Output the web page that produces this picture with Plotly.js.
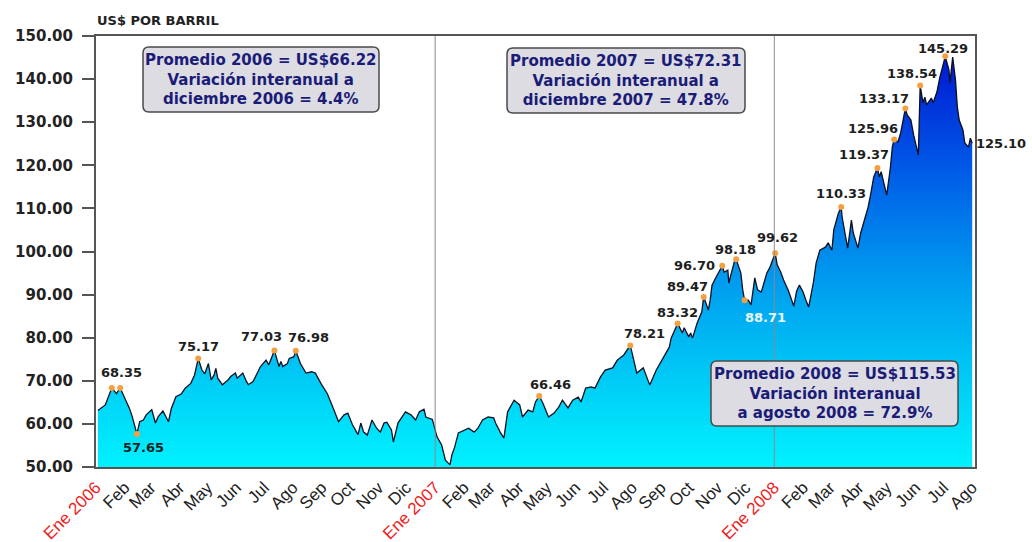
<!DOCTYPE html>
<html><head><meta charset="utf-8">
<script src="https://cdn.plot.ly/plotly-3.0.1.min.js"></script>
<style>html,body{margin:0;padding:0;background:#fff}#chart{width:1032px;height:542px}</style>
</head><body><div id="chart"></div>
<script>
// ---- DATA ----
const dates = [
'2006-01-03','2006-01-06','2006-01-11','2006-01-18','2006-01-23','2006-01-27','2006-02-02','2006-02-06','2006-02-09','2006-02-14',
'2006-02-17','2006-02-21','2006-02-24','2006-03-02','2006-03-06','2006-03-09','2006-03-14','2006-03-17','2006-03-20','2006-03-23',
'2006-03-28','2006-04-03','2006-04-07','2006-04-13','2006-04-17','2006-04-21','2006-04-25','2006-04-28','2006-05-02','2006-05-05',
'2006-05-08','2006-05-10','2006-05-12','2006-05-17','2006-05-23','2006-05-26','2006-05-31','2006-06-02','2006-06-08','2006-06-12',
'2006-06-14','2006-06-19','2006-06-22','2006-06-27','2006-07-03','2006-07-06','2006-07-12','2006-07-17','2006-07-19','2006-07-21',
'2006-07-26','2006-07-28','2006-08-02','2006-08-04','2006-08-09','2006-08-15','2006-08-21','2006-08-25','2006-08-31','2006-09-07',
'2006-09-14','2006-09-19','2006-09-25','2006-09-29','2006-10-04','2006-10-10','2006-10-13','2006-10-16','2006-10-20','2006-10-25',
'2006-10-30','2006-11-03','2006-11-07','2006-11-10','2006-11-15','2006-11-17','2006-11-22','2006-11-30','2006-12-06','2006-12-11',
'2006-12-15','2006-12-20','2006-12-22','2006-12-29',
'2007-01-03','2007-01-08','2007-01-12','2007-01-17','2007-01-19','2007-01-22','2007-01-26','2007-02-01','2007-02-06','2007-02-12',
'2007-02-16','2007-02-21','2007-02-27','2007-03-05','2007-03-07','2007-03-12','2007-03-16','2007-03-20','2007-03-23','2007-03-27',
'2007-04-02','2007-04-05','2007-04-11','2007-04-16','2007-04-19','2007-04-23','2007-04-27','2007-05-03','2007-05-09','2007-05-14',
'2007-05-18','2007-05-24','2007-05-29','2007-06-04','2007-06-07','2007-06-12','2007-06-18','2007-06-22','2007-06-28','2007-07-03',
'2007-07-11','2007-07-16','2007-07-23','2007-07-30','2007-08-01','2007-08-06','2007-08-13','2007-08-16','2007-08-20','2007-08-27',
'2007-09-04','2007-09-10','2007-09-12','2007-09-16','2007-09-19','2007-09-24','2007-09-26','2007-10-01','2007-10-03','2007-10-05',
'2007-10-10','2007-10-15','2007-10-17','2007-10-19','2007-10-22','2007-10-24','2007-10-26','2007-10-30','2007-11-02','2007-11-06',
'2007-11-08','2007-11-12','2007-11-13','2007-11-16','2007-11-19','2007-11-21','2007-11-26','2007-11-28','2007-11-30','2007-12-04',
'2007-12-07','2007-12-11','2007-12-14','2007-12-18','2007-12-24','2007-12-27',
'2008-01-02','2008-01-04','2008-01-08','2008-01-11','2008-01-16','2008-01-22','2008-01-25','2008-01-28','2008-02-01','2008-02-04',
'2008-02-07','2008-02-12','2008-02-15','2008-02-19','2008-02-25','2008-02-28','2008-03-03','2008-03-05','2008-03-10','2008-03-13',
'2008-03-14','2008-03-17','2008-03-20','2008-03-24','2008-03-26','2008-03-31','2008-04-03','2008-04-07','2008-04-11','2008-04-14',
'2008-04-17','2008-04-21','2008-04-23','2008-04-25','2008-04-28','2008-05-01','2008-05-05','2008-05-07','2008-05-09','2008-05-13',
'2008-05-16','2008-05-21','2008-05-23','2008-05-27','2008-05-30','2008-06-04','2008-06-06','2008-06-09','2008-06-11','2008-06-13',
'2008-06-18','2008-06-20','2008-06-24','2008-06-27','2008-07-03','2008-07-07','2008-07-08','2008-07-11','2008-07-14','2008-07-16',
'2008-07-18','2008-07-22','2008-07-24','2008-07-28','2008-07-30','2008-08-01'
];
const prices = [
63.1,63.6,64.4,68.35,67.0,68.35,65.6,63.6,61.7,57.65,
60.5,60.9,62.1,63.3,60.2,61.7,63.0,61.7,60.5,63.5,
66.3,67.0,68.3,69.4,71.3,75.17,72.5,71.6,74.0,70.2,
71.3,72.9,70.6,69.1,70.2,71.0,71.8,70.6,71.8,69.8,
69.1,69.8,71.0,73.3,74.8,73.7,77.03,73.3,74.5,73.3,
74.0,75.2,75.6,76.98,74.0,71.8,72.1,71.8,69.4,67.0,
63.3,60.5,62.1,62.5,59.8,57.5,60.2,58.1,57.4,60.9,
59.0,58.1,60.2,60.4,58.6,55.8,60.2,62.8,62.1,60.9,
62.8,63.4,61.6,61.05,
57.0,55.1,51.6,50.5,52.8,54.6,57.9,58.6,59.0,58.1,
59.0,60.9,61.6,61.4,60.2,58.1,56.7,62.8,63.9,65.5,
64.4,61.6,63.2,62.8,65.1,66.46,64.8,61.6,62.5,63.9,
65.5,63.7,65.5,66.2,65.1,68.3,68.6,68.3,70.9,72.5,
73.0,74.8,76.0,78.21,76.4,71.8,73.0,71.3,69.0,72.5,
75.5,77.8,79.9,82.0,83.32,81.1,82.3,80.2,81.1,79.9,
83.4,86.0,89.47,88.3,86.4,88.7,92.2,93.9,95.0,96.70,
95.2,95.7,92.7,95.0,97.6,98.18,95.0,91.1,88.71,88.7,
87.6,93.9,91.1,90.6,95.0,96.2,
99.62,97.0,95.2,93.4,91.0,87.3,90.8,92.2,90.6,88.7,
87.1,92.7,97.3,100.3,101.0,102.0,100.3,105.0,108.9,110.33,
108.0,104.3,100.8,107.3,104.3,100.8,104.3,107.3,110.3,113.6,
117.3,119.37,117.3,118.5,115.9,113.1,119.6,124.2,125.96,125.4,
127.5,133.17,131.7,130.5,127.0,122.4,138.54,134.5,135.8,134.0,
135.6,134.5,137.0,140.3,145.29,142.1,139.1,145.1,139.8,133.5,
130.5,128.2,125.2,124.2,126.3,125.10
];
// highlighted points (orange dots)
const peakDates = ['2006-01-18','2006-01-27','2006-02-14','2006-04-21','2006-07-12','2006-08-04','2007-04-23','2007-07-30','2007-09-19','2007-10-17','2007-11-06','2007-11-21','2007-11-30','2008-01-02','2008-03-13','2008-04-21','2008-05-09','2008-05-21','2008-06-06','2008-07-03'];
const peakValues = [68.35,68.35,57.65,75.17,77.03,76.98,66.46,78.21,83.32,89.47,96.70,98.18,88.71,99.62,110.33,119.37,125.96,133.17,138.54,145.29];
const monthNames = ['Ene','Feb','Mar','Abr','May','Jun','Jul','Ago','Sep','Oct','Nov','Dic'];
const yTicks = [50,60,70,80,90,100,110,120,130,140,150];
const boxLines = [
  ['Promedio 2006 = US$66.22','Variación interanual a','diciembre 2006 = 4.4%'],
  ['Promedio 2007 = US$72.31','Variación interanual a','diciembre 2007 = 47.8%'],
  ['Promedio 2008 = US$115.53','Variación interanual','a agosto 2008 = 72.9%']
];
const yAxisLabel = 'US$ POR BARRIL';

// ---- LAYOUT HELPERS ----
// label offsets (px) for each highlighted point; null = no label
const labelOffsets = [null,[1,15],[7,-13],[0,12],[-13,14],[13,13],[11,12],[14,12],[0,11],[-16,10],[-28,0],[-1,10],[21,-17],[2,16],[0,13],[-13,14],[-21,11],[-21,10],[-8,12],[-2,8]];
const boxRects = [[143,379,47,112],[507,745,48,113],[711,958,361,426]]; // pixel coords
const L=96, R=975, T=36, B=467, W=1032, H=542;
const px2x = p => (p-L)/(R-L);
const px2y = p => (B-p)/(B-T);

const tickvals=[], ticktext=[];
for (let y=2006; y<=2008; y++) {
  for (let m=0; m<12; m++) {
    if (y===2008 && m>7) break;
    tickvals.push(`${y}-${String(m+1).padStart(2,'0')}-01`);
    ticktext.push(m===0 ? `<span style="color:#EE1C1C">${monthNames[m]} ${y}</span>` : monthNames[m]);
  }
}

function rr(x0,x1,y0,y1){
  const rx=6/(R-L), ry=6/(B-T);
  return `M ${x0+rx},${y0} L ${x1-rx},${y0} Q ${x1},${y0} ${x1},${y0+ry} L ${x1},${y1-ry} Q ${x1},${y1} ${x1-rx},${y1} L ${x0+rx},${y1} Q ${x0},${y1} ${x0},${y1-ry} L ${x0},${y0+ry} Q ${x0},${y0} ${x0+rx},${y0} Z`;
}

const shapes = [
  {type:'line', xref:'x', yref:'paper', x0:'2007-01-01', x1:'2007-01-01', y0:0, y1:1, line:{color:'#8a8a8a', width:1}, layer:'above'},
  {type:'line', xref:'x', yref:'paper', x0:'2008-01-01', x1:'2008-01-01', y0:0, y1:1, line:{color:'#8a8a8a', width:1}, layer:'above'}
];
const annotations = [];
boxRects.forEach((b,i)=>{
  const x0=px2x(b[0]), x1=px2x(b[1]), y0=px2y(b[3]), y1=px2y(b[2]);
  shapes.push({type:'path', xref:'paper', yref:'paper', path:rr(x0,x1,y0,y1), fillcolor:'#DCDCE2', line:{color:'#4a4a4a', width:1.5}, layer:'above'});
  annotations.push({xref:'paper', yref:'paper', x:(x0+x1)/2, y:(y0+y1)/2, xanchor:'center', yanchor:'middle', showarrow:false,
    text:boxLines[i].join('<br>'), align:'center',
    font:{family:'DejaVu Sans', size:15, color:'#1B1B78', weight:'bold'}});
});
peakDates.forEach((d,i)=>{
  const o = labelOffsets[i]; if(!o) return;
  annotations.push({xref:'x', yref:'y', x:d, y:peakValues[i], xshift:o[0], yshift:o[1], showarrow:false,
    xanchor:'center', yanchor:'middle', text:peakValues[i].toFixed(2),
    font:{family:'DejaVu Sans', size:13, weight:'bold', color: i===12 ? '#EAF6FF' : '#1e1e1e'}});
});
annotations.push({xref:'x', yref:'y', x:dates[dates.length-1], y:prices[prices.length-1], xshift:29, showarrow:false,
  xanchor:'center', yanchor:'middle', text:prices[prices.length-1].toFixed(2),
  font:{family:'DejaVu Sans', size:13, weight:'bold', color:'#1e1e1e'}});
annotations.push({xref:'paper', yref:'paper', x:0, y:px2y(21), xanchor:'left', yanchor:'middle', xshift:-1, showarrow:false,
  text:yAxisLabel, font:{family:'DejaVu Sans', size:13, weight:'bold', color:'#222'}});

const traces = [
  {type:'scatter', mode:'lines', x:dates, y:prices, fill:'tozeroy',
   fillgradient:{type:'vertical', start:50, stop:150, colorscale:[[0,'#00F2FF'],[0.2,'#00CCF6'],[0.45,'#0098EE'],[0.7,'#0058E6'],[0.95,'#0018D2'],[1,'#0010C8']]},
   line:{color:'#0b1020', width:1.3}, hoverinfo:'x+y', showlegend:false},
  {type:'scatter', mode:'markers', x:peakDates, y:peakValues, marker:{color:'#F4A040', size:6}, showlegend:false, hoverinfo:'skip'}
];

const layout = {
  width:W, height:H, margin:{l:L, r:W-R, t:T, b:H-B},
  paper_bgcolor:'#fff', plot_bgcolor:'#fff', showlegend:false,
  xaxis:{type:'date', range:['2006-01-01','2008-08-04'], tickvals:tickvals, ticktext:ticktext, tickangle:-45,
    tickfont:{family:'Liberation Sans', size:17, color:'#222'}, showline:true, mirror:true, linecolor:'#555', linewidth:2,
    ticks:'', showgrid:false, zeroline:false, ticklabelstandoff:2},
  yaxis:{range:[50,150], tickvals:yTicks, tickformat:'.2f', ticks:'outside', ticklen:12, tickwidth:2, tickcolor:'#555',
    tickfont:{family:'DejaVu Sans', size:15, color:'#222', weight:'bold'}, showline:true, mirror:true, linecolor:'#555', linewidth:2,
    showgrid:false, zeroline:false, ticklabelstandoff:6},
  shapes:shapes, annotations:annotations
};
Plotly.newPlot('chart', traces, layout, {displayModeBar:false, staticPlot:true});
</script></body></html>
